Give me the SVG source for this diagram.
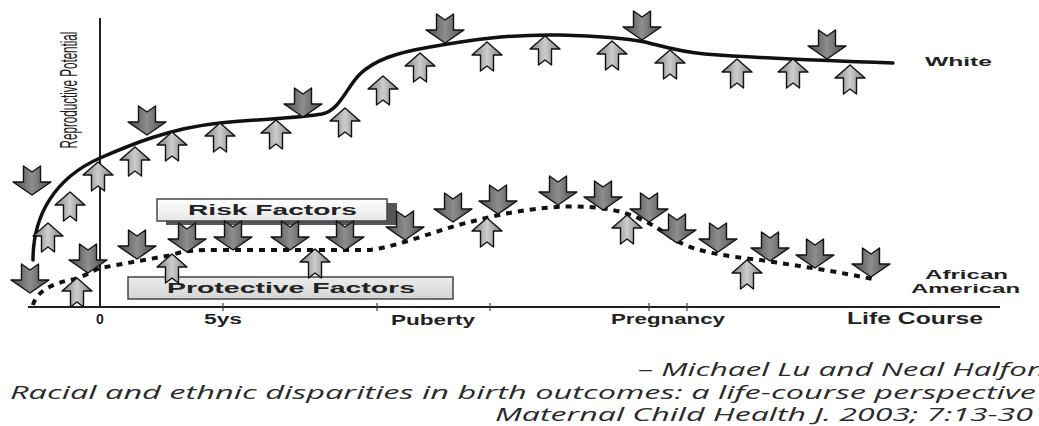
<svg xmlns="http://www.w3.org/2000/svg" xmlns:xlink="http://www.w3.org/1999/xlink" width="1039" height="426" viewBox="0 0 1039 426">
<style>
.ax{stroke:#222;stroke-width:2;fill:none}
.tk{stroke:#444;stroke-width:1.2}
.lbl{font-family:"Liberation Sans",Arial,sans-serif;font-weight:bold;fill:#222;font-size:14px}
.ylbl{font-family:"Liberation Sans",Arial,sans-serif;fill:#1a1a1a;font-size:23px}
.cite{font-family:"Open Sans","Liberation Sans",sans-serif;font-style:italic;fill:#2a2a2a;font-size:19px}
.white{stroke:#111;stroke-width:3.5;fill:none;stroke-linecap:round}
.aa{stroke:#111;stroke-width:4;fill:none;stroke-dasharray:6 6}
.bx{stroke:#444;stroke-width:1.5}
</style>
<defs>
<linearGradient id="gd" x1="0" y1="0" x2="1" y2="0">
<stop offset="0" stop-color="#4a4a4a"/><stop offset="0.5" stop-color="#8e8e8e"/><stop offset="1" stop-color="#4a4a4a"/>
</linearGradient>
<linearGradient id="gu" x1="0" y1="0" x2="1" y2="0">
<stop offset="0" stop-color="#7c7c7c"/><stop offset="0.5" stop-color="#cdcdcd"/><stop offset="1" stop-color="#7c7c7c"/>
</linearGradient>
<linearGradient id="gr" x1="0" y1="0" x2="0" y2="1">
<stop offset="0" stop-color="#ffffff"/><stop offset="1" stop-color="#e6e6e6"/>
</linearGradient>
<linearGradient id="gp" x1="0" y1="0" x2="0" y2="1">
<stop offset="0" stop-color="#ececec"/><stop offset="1" stop-color="#d4d4d4"/>
</linearGradient>
<path id="dn" d="M-8.5,-29 L0,-23 L8.5,-29 L8.5,-13 L19,-13 L0,0 L-19,-13 L-8.5,-13 Z" fill="url(#gd)" stroke="#111" stroke-width="1.4" stroke-linejoin="round"/>
<path id="up" d="M0,0 L15,13 L6.5,13 L6.5,29 L0,24 L-6.5,29 L-6.5,13 L-15,13 Z" fill="url(#gu)" stroke="#111" stroke-width="1.4" stroke-linejoin="round"/>
</defs>
<rect width="1039" height="426" fill="#ffffff"/>

<g id="axes">
<line class="ax" x1="100" y1="18" x2="100" y2="308"/>
<line class="ax" x1="28" y1="307" x2="1000" y2="307"/>
<line class="tk" x1="223" y1="303" x2="223" y2="311"/>
<line class="tk" x1="377" y1="303" x2="377" y2="311"/>
<line class="tk" x1="490" y1="303" x2="490" y2="311"/>
<line class="tk" x1="649" y1="303" x2="649" y2="311"/>
<line class="tk" x1="687" y1="303" x2="687" y2="311"/>
</g>

<g id="axis-labels">
<text class="lbl" x="100" y="324" text-anchor="middle">0</text>
<text class="lbl" x="204" y="324" textLength="38" lengthAdjust="spacingAndGlyphs">5ys</text>
<text class="lbl" x="391" y="325" textLength="84" lengthAdjust="spacingAndGlyphs">Puberty</text>
<text class="lbl" x="611" y="324" textLength="114" lengthAdjust="spacingAndGlyphs">Pregnancy</text>
<text class="lbl" x="847" y="324" style="font-size:16px" textLength="136" lengthAdjust="spacingAndGlyphs">Life Course</text>
<text class="ylbl" transform="translate(77,90) rotate(-90) scale(0.505,1)" x="0" y="0" text-anchor="middle">Reproductive Potential</text>
</g>

<g id="connectors">
<path id="white-curve" class="white" d="M33,260 C33,215 55,178 100,158 C130,145 170,128 220,123 C260,119 300,118 322,114 C340,110 346,88 360,74 C375,60 395,53 430,47 C470,40 510,34 560,35 C600,36 625,38 645,42 C665,47 680,52 705,54 C745,57 800,60 893,63"/>
<path id="aa-curve" class="aa" d="M33,305 C36,292 52,283 75,279 C85,276 94,270 100,268 L172,255 C185,250 200,250 220,250 L370,250 C400,246 440,229 470,222 C510,211 560,203 600,208 C635,212 655,226 675,240 C698,253 728,256 760,260 C800,266 840,272 877,280"/>
</g>

<g id="risk-factors">
<rect x="166" y="203" width="231" height="22" fill="#555"/>
<rect class="bx" x="157" y="199" width="230" height="22" fill="url(#gr)"/>
<text class="lbl" x="188" y="215" textLength="169" lengthAdjust="spacingAndGlyphs">Risk Factors</text>
</g>

<g id="protective-factors">
<rect class="bx" x="128" y="277" width="325" height="22" fill="url(#gp)"/>
<text class="lbl" x="167" y="293" textLength="248" lengthAdjust="spacingAndGlyphs">Protective Factors</text>
</g>

<g id="white-risk">
<use xlink:href="#dn" x="32" y="195"/>
<use xlink:href="#dn" x="147" y="135"/>
<use xlink:href="#dn" x="303" y="117"/>
<use xlink:href="#dn" x="445" y="43"/>
<use xlink:href="#dn" x="642" y="40"/>
<use xlink:href="#dn" x="827" y="59"/>
</g>

<g id="white-protective">
<use xlink:href="#up" x="48" y="223"/>
<use xlink:href="#up" x="70" y="192"/>
<use xlink:href="#up" x="98" y="162"/>
<use xlink:href="#up" x="135" y="147"/>
<use xlink:href="#up" x="172" y="132"/>
<use xlink:href="#up" x="220" y="123"/>
<use xlink:href="#up" x="276" y="120"/>
<use xlink:href="#up" x="345" y="108"/>
<use xlink:href="#up" x="383" y="76"/>
<use xlink:href="#up" x="420" y="53"/>
<use xlink:href="#up" x="487" y="42"/>
<use xlink:href="#up" x="545" y="36"/>
<use xlink:href="#up" x="612" y="41"/>
<use xlink:href="#up" x="670" y="50"/>
<use xlink:href="#up" x="737" y="59"/>
<use xlink:href="#up" x="793" y="59"/>
<use xlink:href="#up" x="850" y="65"/>
</g>

<g id="aa-risk">
<use xlink:href="#dn" x="30" y="293"/>
<use xlink:href="#dn" x="88" y="273"/>
<use xlink:href="#dn" x="137" y="259"/>
<use xlink:href="#dn" x="187" y="252"/>
<use xlink:href="#dn" x="233" y="250"/>
<use xlink:href="#dn" x="290" y="250"/>
<use xlink:href="#dn" x="345" y="250"/>
<use xlink:href="#dn" x="405" y="240"/>
<use xlink:href="#dn" x="453" y="222"/>
<use xlink:href="#dn" x="498" y="214"/>
<use xlink:href="#dn" x="558" y="205"/>
<use xlink:href="#dn" x="603" y="210"/>
<use xlink:href="#dn" x="649" y="222"/>
<use xlink:href="#dn" x="677" y="243"/>
<use xlink:href="#dn" x="718" y="252"/>
<use xlink:href="#dn" x="770" y="261"/>
<use xlink:href="#dn" x="815" y="268"/>
<use xlink:href="#dn" x="871" y="277"/>
</g>

<g id="aa-protective">
<use xlink:href="#up" x="77" y="278"/>
<use xlink:href="#up" x="172" y="254"/>
<use xlink:href="#up" x="315" y="249"/>
<use xlink:href="#up" x="487" y="218"/>
<use xlink:href="#up" x="627" y="215"/>
<use xlink:href="#up" x="747" y="260"/>
</g>

<g id="series-labels">
<text class="lbl" x="925" y="66" style="font-size:13px" textLength="67" lengthAdjust="spacingAndGlyphs">White</text>
<text class="lbl" x="925" y="279" style="font-size:13px" textLength="83" lengthAdjust="spacingAndGlyphs">African</text>
<text class="lbl" x="911" y="293" style="font-size:13px" textLength="109" lengthAdjust="spacingAndGlyphs">American</text>
</g>

<g id="citation">
<text class="cite" x="638" y="376" textLength="407" lengthAdjust="spacingAndGlyphs">– Michael Lu and Neal Halfon</text>
<text class="cite" x="10" y="399" textLength="1026" lengthAdjust="spacingAndGlyphs">Racial and ethnic disparities in birth outcomes: a life-course perspective</text>
<text class="cite" x="495" y="421" textLength="538" lengthAdjust="spacingAndGlyphs">Maternal Child Health J. 2003; 7:13-30</text>
</g>
</svg>
